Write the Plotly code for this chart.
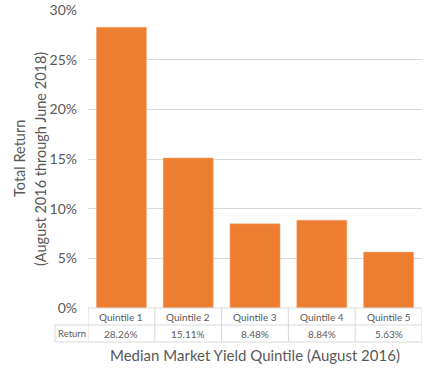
import plotly.graph_objects as go

categories = ["Quintile 1", "Quintile 2", "Quintile 3", "Quintile 4", "Quintile 5"]
returns = [28.26, 15.11, 8.48, 8.84, 5.63]
y_ticks = [0, 5, 10, 15, 20, 25, 30]
y_ticklabels = ["0%", "5%", "10%", "15%", "20%", "25%", "30%"]
row_header = "Return"
y_title_lines = ["Total Return", "(August 2016 through June 2018)"]
x_title = "Median Market Yield Quintile (August 2016)"

W, H = 433, 377
ML, MR, MT, MB = 88, 11, 10, 69
PW = W - ML - MR
ROW = 17
GRID = "#d9d9d9"
TXT = "#595959"
FONT = "Lato, Open Sans, sans-serif"

fig = go.Figure(go.Bar(
    x=list(range(len(categories))), y=returns,
    marker=dict(color="#ED7D31", line=dict(color="#F4B183", width=0.5)),
    width=0.75, hoverinfo="skip",
))

shapes = []
hx0 = -33 / PW
shapes.append(dict(type="line", xref="paper", yref="paper", ysizemode="pixel", yanchor=0,
                   x0=0, x1=1, y0=0, y1=0, line=dict(color=GRID, width=1)))
for k in (1, 2):
    shapes.append(dict(type="line", xref="paper", yref="paper", ysizemode="pixel", yanchor=0,
                       x0=hx0, x1=1, y0=-ROW * k, y1=-ROW * k, line=dict(color=GRID, width=1)))
for i in range(len(categories) + 1):
    shapes.append(dict(type="line", xref="x", yref="paper", ysizemode="pixel", yanchor=0,
                       x0=i - 0.5, x1=i - 0.5, y0=0, y1=-2 * ROW, line=dict(color=GRID, width=1)))
shapes.append(dict(type="line", xref="paper", yref="paper", ysizemode="pixel", yanchor=0,
                   x0=hx0, x1=hx0, y0=-ROW, y1=-2 * ROW, line=dict(color=GRID, width=1)))

annotations = []
for i, (c, v) in enumerate(zip(categories, returns)):
    annotations.append(dict(x=i, y=0, xref="x", yref="paper", yshift=-ROW / 2, showarrow=False,
                            text=c, font=dict(size=10, color=TXT, family=FONT),
                            xanchor="center", yanchor="middle"))
    annotations.append(dict(x=i, y=0, xref="x", yref="paper", yshift=-ROW * 1.5, showarrow=False,
                            text=f"{v:.2f}%", font=dict(size=10, color=TXT, family=FONT),
                            xanchor="center", yanchor="middle"))
annotations.append(dict(x=hx0 / 2, y=0, xref="paper", yref="paper", yshift=-ROW * 1.5, showarrow=False,
                        text=row_header, font=dict(size=9.5, color=TXT, family=FONT),
                        xanchor="center", yanchor="middle"))
annotations.append(dict(x=0.5, y=0, xref="paper", yref="paper", yshift=-47, showarrow=False,
                        text=x_title, font=dict(size=15, color=TXT, family=FONT),
                        xanchor="center", yanchor="middle"))
for px, line in zip((19, 40), y_title_lines):
    annotations.append(dict(x=(px - ML) / PW, y=0.5, xref="paper", yref="paper", showarrow=False,
                            textangle=-90, xanchor="center", yanchor="middle",
                            text=line, font=dict(size=14.5, color=TXT, family=FONT)))

fig.update_layout(
    width=W, height=H,
    margin=dict(l=ML, r=MR, t=MT, b=MB, autoexpand=False),
    paper_bgcolor="white", plot_bgcolor="white",
    showlegend=False,
    bargap=0.25,
    hovermode=False,
    font=dict(family=FONT, color=TXT),
    xaxis=dict(range=[-0.5, 4.5], showticklabels=False, showgrid=False, zeroline=False,
               showline=False, ticks="", automargin=False, fixedrange=True),
    yaxis=dict(range=[0, 30], tickvals=y_ticks, ticktext=y_ticklabels, automargin=False,
               showgrid=True, gridcolor=GRID, gridwidth=1, zeroline=False, showline=False,
               tickfont=dict(size=14, color=TXT, family=FONT), ticklabelstandoff=10,
               fixedrange=True),
    shapes=shapes,
    annotations=annotations,
)

fig.write_html("out.html", config={"displayModeBar": False},
               post_script="document.body.style.margin='0';")
